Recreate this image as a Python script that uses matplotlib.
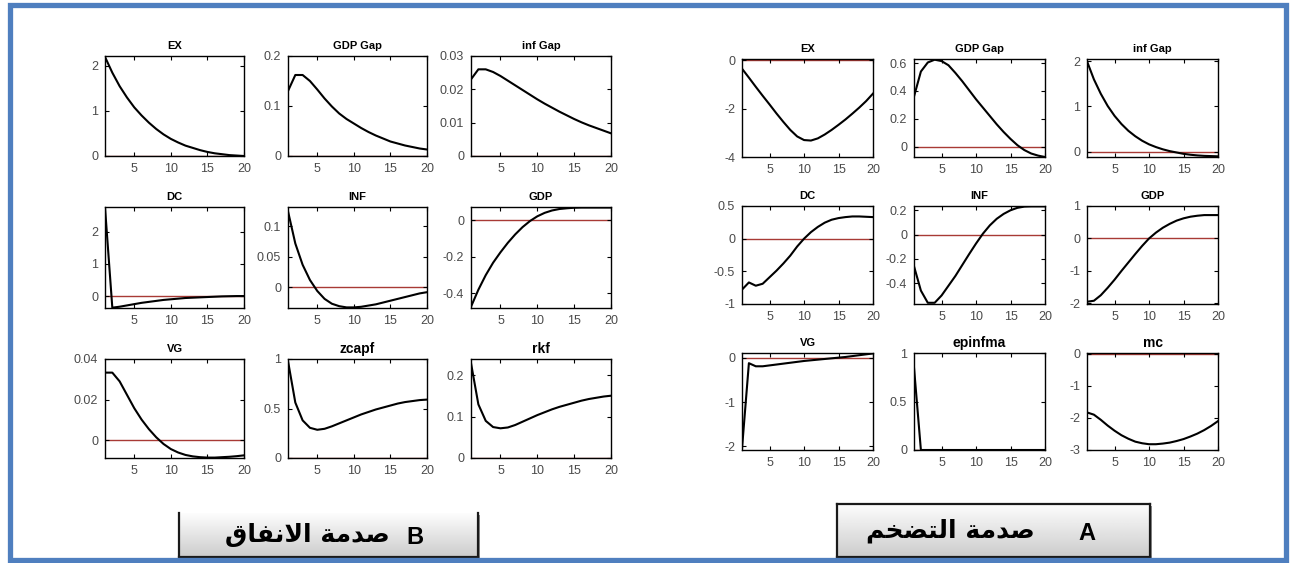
import numpy as np
import matplotlib
matplotlib.use("Agg")
import matplotlib.pyplot as plt
from matplotlib.patches import Rectangle
from matplotlib.ticker import FuncFormatter

# horizon (quarters)
periods = np.arange(1, 21)

# --- B : spending shock ---
b_titles = ["EX", "GDP Gap", "inf Gap", "DC", "INF", "GDP", "VG", "zcapf", "rkf"]
b_ex = [2.2, 1.85, 1.55, 1.3, 1.08, 0.9, 0.74, 0.6, 0.48, 0.38,
        0.3, 0.23, 0.18, 0.13, 0.09, 0.06, 0.04, 0.02, 0.01, 0.0]
b_gdp_gap = [0.13, 0.162, 0.162, 0.15, 0.133, 0.115, 0.099, 0.085, 0.074, 0.065,
             0.056, 0.048, 0.041, 0.035, 0.029, 0.025, 0.021, 0.018, 0.015, 0.013]
b_inf_gap = [0.023, 0.026, 0.026, 0.0252, 0.024, 0.0226, 0.0212, 0.0198, 0.0184, 0.017,
             0.0157, 0.0145, 0.0133, 0.0122, 0.0111, 0.0101, 0.0092, 0.0084, 0.0076, 0.0068]
b_dc = [2.75, -0.36, -0.33, -0.29, -0.25, -0.21, -0.18, -0.15, -0.12, -0.1,
        -0.08, -0.06, -0.05, -0.04, -0.03, -0.02, -0.01, -0.005, 0.0, 0.0]
b_inf = [0.125, 0.072, 0.037, 0.012, -0.006, -0.019, -0.027, -0.031, -0.033, -0.033,
         -0.032, -0.03, -0.028, -0.025, -0.022, -0.019, -0.016, -0.013, -0.01, -0.008]
b_gdp = [-0.473, -0.38, -0.3, -0.232, -0.175, -0.123, -0.077, -0.037, -0.004, 0.022,
         0.041, 0.054, 0.062, 0.066, 0.069, 0.07, 0.07, 0.07, 0.07, 0.07]
b_vg = [0.0333, 0.0333, 0.029, 0.0224, 0.0158, 0.0102, 0.0055, 0.0015, -0.0018, -0.0043,
        -0.006, -0.0072, -0.0079, -0.0083, -0.0085, -0.0085, -0.0083, -0.0081, -0.0078, -0.0074]
b_zcapf = [0.98, 0.56, 0.38, 0.305, 0.285, 0.295, 0.32, 0.35, 0.38, 0.41,
           0.44, 0.465, 0.49, 0.51, 0.53, 0.55, 0.565, 0.575, 0.585, 0.59]
b_rkf = [0.23, 0.13, 0.09, 0.075, 0.072, 0.074, 0.08, 0.088, 0.096, 0.104,
         0.111, 0.118, 0.124, 0.129, 0.134, 0.139, 0.143, 0.146, 0.149, 0.151]
b_series = [b_ex, b_gdp_gap, b_inf_gap, b_dc, b_inf, b_gdp, b_vg, b_zcapf, b_rkf]
b_ylims = [(0, 2.22), (0, 0.2), (0, 0.03), (-0.37, 2.76), (-0.034, 0.132),
           (-0.48, 0.073), (-0.0087, 0.04), (0, 1.0), (0, 0.24)]
b_yticks = [[0, 1, 2], [0, 0.1, 0.2], [0, 0.01, 0.02, 0.03], [0, 1, 2], [0, 0.05, 0.1],
            [-0.4, -0.2, 0], [0, 0.02, 0.04], [0, 0.5, 1], [0, 0.1, 0.2]]

# --- A : inflation shock ---
a_titles = ["EX", "GDP Gap", "inf Gap", "DC", "INF", "GDP", "VG", "epinfma", "mc"]
a_ex = [-0.35, -0.72, -1.1, -1.47, -1.83, -2.2, -2.55, -2.88, -3.15, -3.3,
        -3.32, -3.23, -3.07, -2.88, -2.67, -2.45, -2.21, -1.96, -1.69, -1.38]
a_gdp_gap = [0.36, 0.54, 0.605, 0.625, 0.615, 0.585, 0.53, 0.47, 0.405, 0.34,
             0.28, 0.22, 0.16, 0.105, 0.055, 0.01, -0.025, -0.05, -0.065, -0.075]
a_inf_gap = [2.0, 1.6, 1.28, 1.01, 0.79, 0.61, 0.46, 0.34, 0.24, 0.16,
             0.1, 0.05, 0.01, -0.02, -0.05, -0.07, -0.085, -0.095, -0.1, -0.105]
a_dc = [-0.78, -0.67, -0.72, -0.69, -0.59, -0.49, -0.38, -0.26, -0.12, 0.0,
        0.1, 0.18, 0.245, 0.29, 0.315, 0.33, 0.34, 0.34, 0.335, 0.33]
a_inf = [-0.26, -0.46, -0.56, -0.56, -0.5, -0.42, -0.34, -0.25, -0.16, -0.073,
         0.008, 0.076, 0.13, 0.17, 0.2, 0.22, 0.23, 0.232, 0.232, 0.232]
a_gdp = [-1.95, -1.92, -1.75, -1.52, -1.27, -1.0, -0.74, -0.48, -0.23, 0.0,
         0.18, 0.33, 0.45, 0.55, 0.62, 0.67, 0.7, 0.72, 0.72, 0.72]
a_vg = [-2.05, -0.12, -0.19, -0.19, -0.17, -0.15, -0.13, -0.11, -0.09, -0.07,
        -0.055, -0.04, -0.025, -0.01, 0.005, 0.02, 0.04, 0.06, 0.08, 0.1]
a_epinfma = [0.85, 0.0, 0.0, 0.0, 0.0, 0.0, 0.0, 0.0, 0.0, 0.0,
             0.0, 0.0, 0.0, 0.0, 0.0, 0.0, 0.0, 0.0, 0.0, 0.0]
a_mc = [-1.83, -1.9, -2.06, -2.24, -2.4, -2.54, -2.65, -2.74, -2.79, -2.82,
        -2.82, -2.8, -2.77, -2.72, -2.66, -2.58, -2.49, -2.38, -2.25, -2.1]
a_series = [a_ex, a_gdp_gap, a_inf_gap, a_dc, a_inf, a_gdp, a_vg, a_epinfma, a_mc]
a_ylims = [(-4, 0.05), (-0.075, 0.63), (-0.12, 2.05), (-1, 0.5), (-0.57, 0.235),
           (-2.02, 1.0), (-2.08, 0.11), (0, 1.0), (-3, 0.02)]
a_yticks = [[-4, -2, 0], [0, 0.2, 0.4, 0.6], [0, 1, 2], [-1, -0.5, 0, 0.5],
            [-0.4, -0.2, 0, 0.2], [-2, -1, 0, 1], [-2, -1, 0], [0, 0.5, 1], [-3, -2, -1, 0]]

xticks = [5, 10, 15, 20]
label_a = "صدمة التضخم"
label_b = "صدمة الانفاق"

W, H = 1290, 563
fig = plt.figure(figsize=(W / 100, H / 100), dpi=100)
fig.patch.set_facecolor("white")

# arabic presentation forms: isolated, final, initial, medial
FORMS = {
    "ص": ("\uFEB9", "\uFEBA", "\uFEBB", "\uFEBC"),
    "د": ("\uFEA9", "\uFEAA", None, None),
    "م": ("\uFEE1", "\uFEE2", "\uFEE3", "\uFEE4"),
    "ة": ("\uFE93", "\uFE94", None, None),
    "ا": ("\uFE8D", "\uFE8E", None, None),
    "ل": ("\uFEDD", "\uFEDE", "\uFEDF", "\uFEE0"),
    "ن": ("\uFEE5", "\uFEE6", "\uFEE7", "\uFEE8"),
    "ف": ("\uFED1", "\uFED2", "\uFED3", "\uFED4"),
    "ق": ("\uFED5", "\uFED6", "\uFED7", "\uFED8"),
    "ت": ("\uFE95", "\uFE96", "\uFE97", "\uFE98"),
    "ض": ("\uFEBD", "\uFEBE", "\uFEBF", "\uFEC0"),
    "خ": ("\uFEA5", "\uFEA6", "\uFEA7", "\uFEA8"),
    "LA": ("\uFEFB", "\uFEFC", None, None),
}


def shape_word(word):
    toks = []
    i = 0
    while i < len(word):
        if word[i] == "ل" and i + 1 < len(word) and word[i + 1] == "ا":
            toks.append("LA")
            i += 2
        else:
            toks.append(word[i])
            i += 1
    out = []
    for k, t in enumerate(toks):
        f = FORMS[t]
        prev = k > 0 and FORMS[toks[k - 1]][2] is not None
        nxt = k < len(toks) - 1 and f[2] is not None
        if prev and nxt:
            out.append(f[3])
        elif prev:
            out.append(f[1])
        elif nxt:
            out.append(f[2])
        else:
            out.append(f[0])
    return "".join(out)


def shape(text):
    # join the letters, then lay them out right to left
    return " ".join(shape_word(w) for w in text.split(" "))[::-1]


def fmt(v, pos):
    return "%g" % v


def add_axes(left, right, top, bottom):
    return fig.add_axes([left / W, 1 - bottom / H, (right - left) / W, (bottom - top) / H])


def draw_panel(cols, rows, titles, series, ylims, yticks):
    for k in range(9):
        r, c = divmod(k, 3)
        ax = add_axes(cols[c][0], cols[c][1], rows[r][0], rows[r][1])
        ax.axhline(0, color="#a83a35", lw=1.0, zorder=1)
        ax.plot(periods, series[k], color="black", lw=1.5, zorder=2)
        ax.set_xlim(1, 20)
        ax.set_ylim(*ylims[k])
        ax.set_xticks(xticks)
        ax.set_yticks(yticks[k])
        ax.yaxis.set_major_formatter(FuncFormatter(fmt))
        ax.tick_params(direction="in", top=True, right=True, length=3, width=0.8,
                       labelsize=9, labelcolor="#4a4a4a", pad=5)
        for lab in ax.get_xticklabels() + ax.get_yticklabels():
            lab.set_family("Liberation Sans")
        for s in ax.spines.values():
            s.set_linewidth(1.0)
        big = titles[k] in ("zcapf", "rkf", "epinfma", "mc")
        ax.set_title(titles[k], fontsize=10 if big else 8, fontweight="bold",
                     family="Liberation Sans", pad=4 if big else 5)


draw_panel([(105, 244), (288, 427), (471, 611)], [(56, 156), (207, 308), (359, 458)],
           b_titles, b_series, b_ylims, b_yticks)
draw_panel([(742, 873), (914, 1045), (1087, 1218)], [(59, 157), (206, 304), (353, 450)],
           a_titles, a_series, a_ylims, a_yticks)


def label_box(left, right, top, bottom, letter, letter_x, text, text_x, top_edge=True):
    # soft drop shadow, kept under the box
    fig.patches.append(Rectangle(((left + 2) / W, 1 - (bottom + 2) / H), (right - left) / W,
                                 (bottom - top) / H, transform=fig.transFigure,
                                 facecolor="#8c8c8c", edgecolor="none", zorder=-1))
    bx = add_axes(left, right, top, bottom)
    bx.set_zorder(2)
    grad = np.linspace(0.99, 0.8, 64).reshape(-1, 1)
    bx.imshow(grad, cmap="gray", vmin=0, vmax=1, aspect="auto", extent=(0, 1, 0, 1))
    bx.set_xlim(0, 1)
    bx.set_ylim(0, 1)
    bx.set_xticks([])
    bx.set_yticks([])
    for name, s in bx.spines.items():
        s.set_linewidth(1.6)
        s.set_color("#1a1a1a")
    if not top_edge:
        bx.spines["top"].set_visible(False)
    bx.text((letter_x - left) / (right - left), 0.45, letter, fontsize=17, fontweight="bold",
            family="Liberation Sans", ha="center", va="center", transform=bx.transAxes)
    bx.text((text_x - left) / (right - left), 0.5, shape(text), fontsize=18, fontweight="bold",
            family="DejaVu Sans", ha="center", va="center", transform=bx.transAxes)


label_box(179, 478, 513, 557, "B", 415, label_b, 307, top_edge=False)
label_box(837, 1150, 504, 557, "A", 1087, label_a, 950)

# blue frame around the whole sheet
fig.patches.append(Rectangle((10 / W, 1 - 560 / H), 1276 / W, 555 / H,
                             transform=fig.transFigure, facecolor="none",
                             edgecolor="#4f7fbf", lw=3.8, zorder=10))

fig.savefig("out.png", dpi=100)
